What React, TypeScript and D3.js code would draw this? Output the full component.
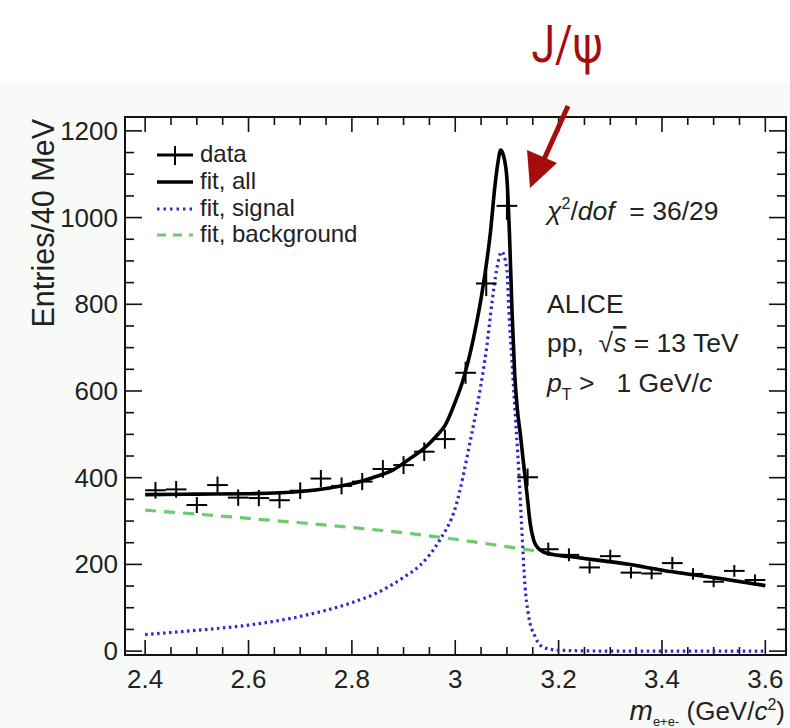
import React from "react";
import * as d3 from "d3";

// invariant mass bins (GeV/c^2), 40 MeV wide
const binCenters = [
  2.42, 2.46, 2.5, 2.54, 2.58, 2.62, 2.66, 2.7, 2.74, 2.78, 2.82, 2.86, 2.9, 2.94, 2.98,
  3.02, 3.06, 3.1, 3.14, 3.18, 3.22, 3.26, 3.3, 3.34, 3.38, 3.42, 3.46, 3.5, 3.54, 3.58,
];
const entries = [
  371, 373, 337, 383, 354, 353, 348, 370, 398, 381, 391, 420, 429, 460, 489,
  642, 848, 1027, 401, 235, 222, 193, 219, 181, 179, 203, 178, 160, 185, 164,
];

// fit, all
const fitAllMass = [
  2.4, 2.5, 2.6, 2.7, 2.76, 2.8, 2.84, 2.88, 2.91, 2.94, 2.965, 2.98, 3.0, 3.015, 3.035,
  3.055, 3.068, 3.077, 3.083, 3.088, 3.094, 3.1, 3.105, 3.11, 3.115, 3.12, 3.126, 3.132,
  3.139, 3.145, 3.152, 3.16, 3.17, 3.18, 3.22, 3.32, 3.42, 3.51, 3.6,
];
const fitAllVal = [
  361, 362, 363, 368, 377, 386, 400, 418, 442, 468, 498, 520, 575, 625, 720,
  850, 965, 1075, 1130, 1156, 1140, 1090, 960, 780, 640, 560, 500, 435,
  360, 295, 255, 238, 229, 225, 218, 203, 183, 168, 151,
];

// fit, signal
const fitSigMass = [
  2.4, 2.5, 2.6, 2.7, 2.8, 2.85, 2.9, 2.932, 2.97, 3.0, 3.03, 3.048, 3.061, 3.071, 3.08,
  3.09, 3.1, 3.104, 3.11, 3.116, 3.122, 3.128, 3.135, 3.141, 3.155, 3.17, 3.2, 3.3, 3.4,
  3.5, 3.6,
];
const fitSigVal = [
  38, 48, 60, 80, 112, 135, 170, 198, 256, 330, 490, 602, 702, 803, 879,
  921, 879, 780, 665, 549, 434, 300, 150, 88, 32, 9, 2, 0, 0,
  0, 0,
];

// fit, background
const fitBkgMass = [2.4, 2.5, 2.6, 2.7, 2.8, 2.9, 3.0, 3.1, 3.2, 3.3, 3.4, 3.5, 3.6];
const fitBkgVal = [325, 316, 306, 296, 285, 273, 258, 241, 223, 205, 187, 169, 151];

const xTicks = [2.4, 2.6, 2.8, 3.0, 3.2, 3.4, 3.6];
const xTickLabels = ["2.4", "2.6", "2.8", "3", "3.2", "3.4", "3.6"];
const yTicks = [0, 200, 400, 600, 800, 1000, 1200];

const W = 790;
const H = 728;
const left = 125;
const right = 786;
const top = 117;
const bottom = 655;

const font = "'Liberation Sans', Arial, Helvetica, sans-serif";

export default function App() {
  const x = d3.scaleLinear().domain([2.361, 3.64]).range([left, right]);
  const y = d3.scaleLinear().domain([-9, 1232]).range([bottom, top]);

  const line = d3
    .line<[number, number]>()
    .x((d) => x(d[0]))
    .y((d) => y(d[1]))
    .curve(d3.curveMonotoneX);

  const pairs = (m: number[], v: number[]) => m.map((d, i) => [d, v[i]] as [number, number]);

  const xMinor = d3.range(2.4, 3.6001, 0.05);
  const yMinor = d3.range(0, 1201, 50);

  return (
    <svg
      width={W}
      height={H}
      style={{ position: "absolute", left: 0, top: 0, display: "block" }}
      fontFamily={font}
    >
      <rect x={0} y={0} width={W} height={H} fill="#ffffff" />
      <rect x={0} y={83} width={W} height={H - 83} fill="#f8faf8" />
      <rect x={left} y={top} width={right - left} height={bottom - top} fill="#ffffff" />

      <defs>
        <clipPath id="plot">
          <rect x={left} y={top} width={right - left} height={bottom - top} />
        </clipPath>
      </defs>

      {/* ticks */}
      <g stroke="#111" strokeWidth={1.6}>
        {xMinor.map((t, i) => {
          const major = Math.abs(((t - 2.4) / 0.2) - Math.round((t - 2.4) / 0.2)) < 1e-6;
          const len = major ? 15 : 8;
          return (
            <g key={"xt" + i}>
              <line x1={x(t)} x2={x(t)} y1={bottom} y2={bottom - len} />
              <line x1={x(t)} x2={x(t)} y1={top} y2={top + len} />
            </g>
          );
        })}
        {yMinor.map((t, i) => {
          const major = t % 200 === 0;
          const len = major ? 17 : 9;
          return (
            <g key={"yt" + i}>
              <line x1={left} x2={left + len} y1={y(t)} y2={y(t)} />
              <line x1={right} x2={right - len} y1={y(t)} y2={y(t)} />
            </g>
          );
        })}
      </g>

      {/* curves */}
      <g clipPath="url(#plot)" fill="none">
        <path
          d={line(pairs(fitBkgMass, fitBkgVal)) || ""}
          stroke="#6ccb6c"
          strokeWidth={3.2}
          strokeDasharray="11 8"
        />
        <path
          d={line(pairs(fitSigMass, fitSigVal)) || ""}
          stroke="#2a2ad0"
          strokeWidth={3.2}
          strokeDasharray="2.5 3.5"
        />
        <path
          d={line(pairs(fitAllMass, fitAllVal)) || ""}
          stroke="#000"
          strokeWidth={3.6}
          strokeLinejoin="round"
        />
      </g>

      {/* data points */}
      <g stroke="#000" strokeWidth={2}>
        {binCenters.map((m, i) => {
          const v = entries[i];
          const e = Math.sqrt(v);
          return (
            <g key={"d" + i}>
              <line x1={x(m - 0.02)} x2={x(m + 0.02)} y1={y(v)} y2={y(v)} />
              <line x1={x(m)} x2={x(m)} y1={y(v - e)} y2={y(v + e)} />
            </g>
          );
        })}
      </g>

      {/* frame */}
      <rect
        x={left}
        y={top}
        width={right - left}
        height={bottom - top}
        fill="none"
        stroke="#111"
        strokeWidth={2}
      />

      {/* tick labels */}
      <g fontSize={26} fill="#222">
        {xTicks.map((t, i) => (
          <text key={"xl" + i} x={x(t)} y={688} textAnchor="middle">
            {xTickLabels[i]}
          </text>
        ))}
        {yTicks.map((t, i) => (
          <text key={"yl" + i} x={118} y={y(t) + 9} textAnchor="end">
            {t}
          </text>
        ))}
      </g>

      {/* axis titles */}
      <text
        transform="translate(54,119) rotate(-90)"
        textAnchor="end"
        fontSize={30.5}
        fill="#222"
      >
        Entries/40 MeV
      </text>
      <text x={785} y={720} textAnchor="end" fontSize={26} fill="#222">
        <tspan fontStyle="italic" fontSize={28}>m</tspan>
        <tspan fontSize={13} dy={6}>e+e-</tspan>
        <tspan dy={-6}> (GeV/</tspan>
        <tspan fontStyle="italic">c</tspan>
        <tspan fontSize={16} dy={-10}>2</tspan>
        <tspan dy={10}>)</tspan>
      </text>

      {/* legend */}
      <g fontSize={24} fill="#222">
        <line x1={157} x2={193} y1={155} y2={155} stroke="#000" strokeWidth={3} />
        <line x1={175} x2={175} y1={146} y2={165} stroke="#000" strokeWidth={2} />
        <text x={200} y={162}>data</text>
        <line x1={157} x2={193} y1={182} y2={182} stroke="#000" strokeWidth={3.5} />
        <text x={200} y={189}>fit, all</text>
        <line
          x1={157}
          x2={193}
          y1={209}
          y2={209}
          stroke="#2a2ad0"
          strokeWidth={3}
          strokeDasharray="2.5 4"
        />
        <text x={200} y={216}>fit, signal</text>
        <line
          x1={157}
          x2={193}
          y1={235}
          y2={235}
          stroke="#6ccb6c"
          strokeWidth={3}
          strokeDasharray="9 7"
        />
        <text x={200} y={242}>fit, background</text>
      </g>

      {/* annotations */}
      <g fontSize={26.5} fill="#222">
        <text x={547} y={220}>
          <tspan fontStyle="italic">χ</tspan>
          <tspan fontSize={16} dy={-11}>2</tspan>
          <tspan dy={11}>/</tspan>
          <tspan fontStyle="italic">dof</tspan>
          <tspan>{"\u00a0\u00a0= 36/29"}</tspan>
        </text>
        <text x={547} y={313}>ALICE</text>
        <text x={547} y={352}>
          <tspan>{"pp,\u00a0\u00a0"}</tspan>
          <tspan>√</tspan>
          <tspan fontStyle="italic" textDecoration="overline">s</tspan>
          <tspan>{"\u00a0= 13 TeV"}</tspan>
        </text>
        <text x={547} y={392}>
          <tspan fontStyle="italic">p</tspan>
          <tspan fontSize={16} dy={8}>T</tspan>
          <tspan dy={-8}>{"\u00a0>\u00a0\u00a0 1 GeV/"}</tspan>
          <tspan fontStyle="italic">c</tspan>
        </text>
      </g>

      {/* J/psi arrow */}
      <g fill="#a50d0d" stroke="none">
        <text
          transform="translate(567,62) scale(0.82,1)"
          textAnchor="middle"
          fontSize={52}
          fontFamily="Roboto, sans-serif"
        >
          J/ψ
        </text>
        <line x1={568} y1={106} x2={541} y2={166} stroke="#a50d0d" strokeWidth={5} />
        <polygon points="530,188 527,150 557,163" />
      </g>
    </svg>
  );
}
